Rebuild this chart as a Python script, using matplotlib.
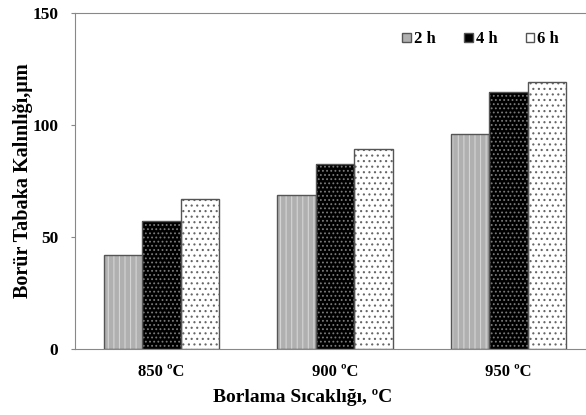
import numpy as np
import matplotlib
matplotlib.use("Agg")
import matplotlib.pyplot as plt
from matplotlib.patches import Patch

plt.rcParams['font.family'] = ['Liberation Serif', 'DejaVu Serif']
plt.rcParams['font.weight'] = 'bold'
plt.rcParams['axes.labelweight'] = 'bold'
plt.rcParams['hatch.linewidth'] = 0.8

temps = ["850 ºC", "900 ºC", "950 ºC"]
times = ["2 h", "4 h", "6 h"]
h2 = [42.0, 68.6, 95.8]
h4 = [57.3, 82.4, 114.9]
h6 = [67.0, 89.1, 119.2]

series = [h2, h4, h6]
faces = ['#b0b0b0', '#000000', '#ffffff']
hatch_cols = ['#d4d4d4', '#7a7a7a', '#666666']
hatches = ['|||', '....', '...']

fig = plt.figure(figsize=(5.86, 4.15), dpi=100)
ax = fig.add_axes([75 / 586, 1 - 349 / 415, 511 / 586, 336 / 415])

x = np.arange(len(temps))
w = 0.222
handles = []
for i, vals in enumerate(series):
    pos = x + (i - 1) * w
    # hatch layer first, outline drawn on top so the edge stays dark grey
    ax.bar(pos, vals, w, color=faces[i], edgecolor=hatch_cols[i],
           hatch=hatches[i], linewidth=0, zorder=2)
    ax.bar(pos, vals, w, fill=False, edgecolor='#555555', linewidth=1.0, zorder=3)
    handles.append(Patch(facecolor=faces[i], edgecolor='#555555', label=times[i]))

ax.set_xlim(-0.5, 2.448)
ax.set_ylim(0, 150)
ax.set_yticks([0, 50, 100, 150])
ax.set_xticks(x)
ax.set_xticklabels(temps)
ax.tick_params(axis='x', length=0, pad=11, labelsize=12)
ax.tick_params(axis='y', length=3, color='#888888', labelsize=12.5, pad=9)
for s in ['left', 'bottom', 'top']:
    ax.spines[s].set_color('#888888')
ax.spines['right'].set_visible(False)

ax.set_xlabel("Borlama Sıcaklığı, ºC", fontsize=14)
ax.xaxis.set_label_coords(0.446, -0.12)
ax.set_ylabel("Borür Tabaka Kalınlığı,µm", fontsize=14.5)
ax.yaxis.set_label_coords(-0.083, 0.5)

ax.legend(handles=handles, loc='upper right', ncol=3, frameon=False,
          fontsize=12, handlelength=0.5, handleheight=0.5, handletextpad=0.2,
          columnspacing=1.7, bbox_to_anchor=(0.977, 0.99))

fig.savefig("out.png", dpi=100)
